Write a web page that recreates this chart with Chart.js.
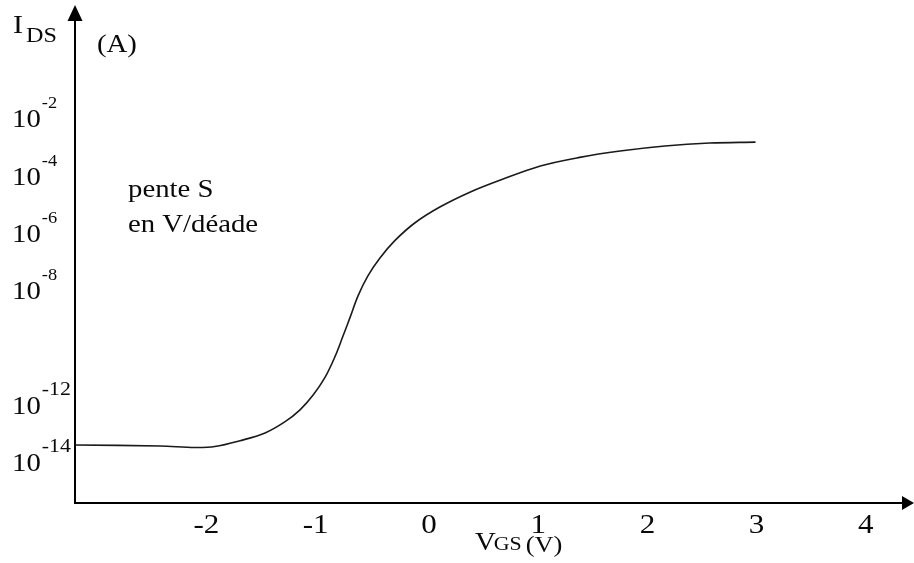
<!DOCTYPE html>
<html>
<head>
<meta charset="utf-8">
<script src="https://cdn.jsdelivr.net/npm/chart.js@4"></script>
<style>
  body { margin: 0; background: #fff; }
  canvas { display: block; }
</style>
</head>
<body>
<canvas id="c" width="914" height="563"></canvas>
<script>
// values (VGS in volts, IDS in amperes)
const vgs = [-3.24, -2.46, -2.14, -1.96, -1.73, -1.50, -1.32, -1.18, -1.06, -0.95, -0.86, -0.79, -0.72,
  -0.65, -0.56, -0.45, -0.31, -0.13, 0.10, 0.38, 0.65, 1.02, 1.38, 1.75, 2.16, 2.57, 2.99];
const ids = [1.07e-14, 9.8e-15, 8.7e-15, 9.4e-15, 1.5e-14, 2.8e-14, 6.8e-14, 1.8e-13, 5.9e-13, 2.5e-12,
  1.3e-11, 6.3e-11, 3.2e-10, 1.7e-9, 8.5e-9, 3.6e-8, 1.5e-7, 6.1e-7, 2.2e-6, 7.4e-6, 1.9e-5, 6.0e-5,
  1.2e-4, 2.0e-4, 3.0e-4, 3.8e-4, 4.1e-4];

const xTicks = [-2, -1, 0, 1, 2, 3, 4];
const yTickExp = [-2, -4, -6, -8, -12, -14];

const yUnit = '(A)';
const noteLines = ['pente S', 'en V/déade'];

const FONT = '"Liberation Serif", "Times New Roman", serif';
const SX = 1.15; // the picture's text is a little stretched sideways
const INK = '#0a0a0a';

function txt(ctx, s, x, y, size) {
  ctx.save();
  ctx.font = size + 'px ' + FONT;
  ctx.fillStyle = INK;
  ctx.textBaseline = 'alphabetic';
  const w = ctx.measureText(s).width * SX;
  ctx.translate(x, y);
  ctx.scale(SX, 1);
  ctx.fillText(s, 0, 0);
  ctx.restore();
  return w;
}

function tri(ctx, pts) {
  ctx.beginPath();
  ctx.moveTo(pts[0], pts[1]);
  ctx.lineTo(pts[2], pts[3]);
  ctx.lineTo(pts[4], pts[5]);
  ctx.closePath();
  ctx.fill();
}

const decor = {
  id: 'decor',
  afterDraw(chart) {
    const { ctx, chartArea: a, scales: { x, y } } = chart;
    ctx.save();
    ctx.fillStyle = '#000';
    // arrow heads
    tri(ctx, [a.left, a.top - 15, a.left - 7.5, a.top + 1, a.left + 7.5, a.top + 1]);
    tri(ctx, [a.right + 11, a.bottom, a.right - 1, a.bottom - 7, a.right - 1, a.bottom + 7]);
    ctx.restore();

    // x tick labels
    ctx.save();
    ctx.font = '27px ' + FONT;
    for (const v of xTicks) {
      const s = String(v);
      const w = ctx.measureText(s).width * SX;
      txt(ctx, s, x.getPixelForValue(v) - w / 2 - (v < 0 ? 4 : 0), 533, 27);
    }
    ctx.restore();

    // y tick labels: 10 with superscript exponent
    for (const e of yTickExp) {
      const py = y.getPixelForValue(Math.pow(10, e));
      const w = txt(ctx, '10', 12, py + 25, 25);
      const sup = String(e);
      txt(ctx, sup, 12 + w + 1, py + 6, sup.length > 2 ? 19 : 16);
    }

    // axis titles
    const wI = txt(ctx, 'I', 13, 33, 26);
    txt(ctx, 'DS', 13 + wI + 3, 42, 21);
    txt(ctx, yUnit, 97, 52, 25);

    const wV = txt(ctx, 'V', 475, 550, 25);
    const wG = txt(ctx, 'GS', 475 + wV - 2, 550, 19);
    txt(ctx, '(V)', 475 + wV - 2 + wG + 4, 552, 23);

    // note
    txt(ctx, noteLines[0], 128, 197, 25);
    txt(ctx, noteLines[1], 128, 232, 25);
  }
};

new Chart(document.getElementById('c'), {
  type: 'line',
  data: {
    datasets: [{
      data: vgs.map((v, i) => ({ x: v, y: ids[i] })),
      borderColor: '#1a1a1a',
      borderWidth: 1.6,
      pointRadius: 0,
      fill: false,
      tension: 0.35
    }]
  },
  options: {
    responsive: false,
    animation: false,
    layout: { padding: { left: 75, right: 11, top: 20, bottom: 60 } },
    plugins: { legend: { display: false }, tooltip: { enabled: false } },
    scales: {
      x: {
        type: 'linear',
        min: -3.24,
        max: 4.34,
        grid: { display: false },
        ticks: { display: false },
        border: { color: '#000', width: 2 },
        afterFit: s => { s.height = 0; }
      },
      y: {
        type: 'logarithmic',
        min: 1e-16,
        max: Math.pow(10, 0.88),
        grid: { display: false },
        ticks: { display: false },
        border: { color: '#000', width: 2 },
        afterFit: s => { s.width = 0; }
      }
    }
  },
  plugins: [decor]
});
</script>
</body>
</html>
